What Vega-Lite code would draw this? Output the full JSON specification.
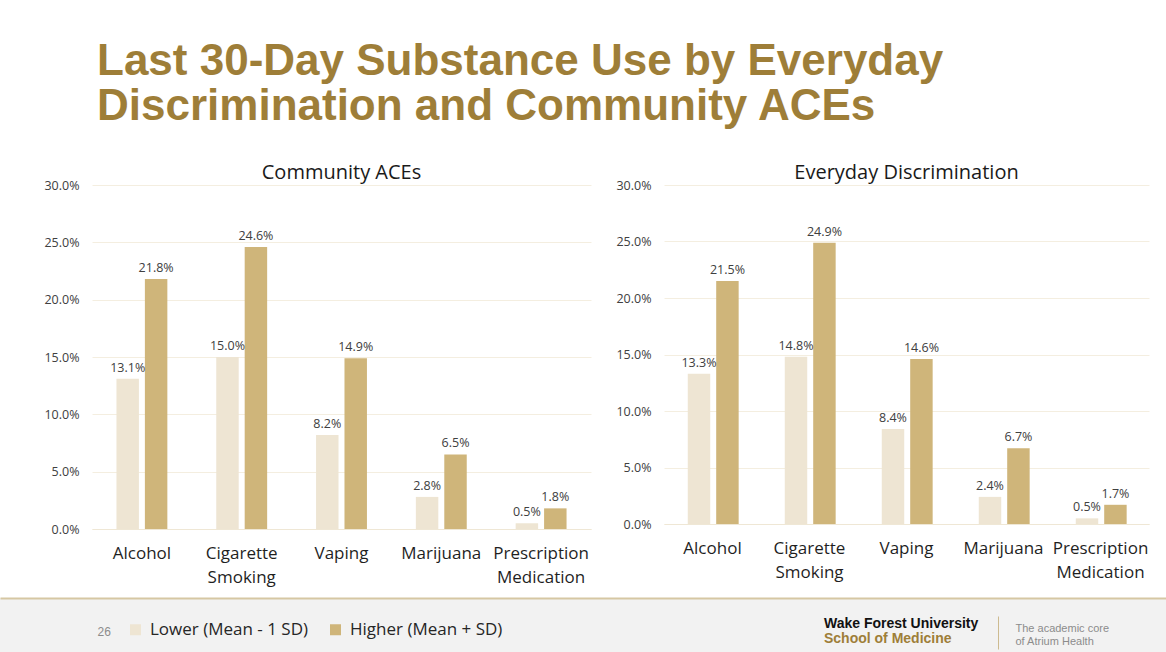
{
  "$schema": "https://vega.github.io/schema/vega-lite/v6.json",
  "background": "white",
  "padding": {"left": 0, "top": 40, "right": 0, "bottom": 0},
  "config": {
    "view": {"stroke": null},
    "font": "Open Sans",
    "legend": {
      "orient": "none", "legendX": 127, "legendY": 436, "direction": "horizontal",
      "title": null, "symbolType": "square", "symbolSize": 121, "symbolStrokeWidth": 0,
      "labelFont": "Open Sans", "labelFontSize": 17, "labelColor": "#262626",
      "labelOffset": 6, "columnPadding": 18
    }
  },
  "title": {
    "text": ["Last 30-Day Substance Use by Everyday", "Discrimination and Community ACEs"],
    "anchor": "start", "dx": 97, "offset": 34,
    "font": "Liberation Sans", "fontWeight": "bold", "fontSize": 44, "lineHeight": 45,
    "color": "#9E7E38"
  },
  "datasets": {
    "bars": [
      {"panel": "Community ACEs", "substance": "Alcohol", "group": "Lower (Mean - 1 SD)", "value": 0.131},
      {"panel": "Community ACEs", "substance": "Alcohol", "group": "Higher (Mean + SD)", "value": 0.218},
      {"panel": "Community ACEs", "substance": "Cigarette Smoking", "group": "Lower (Mean - 1 SD)", "value": 0.150},
      {"panel": "Community ACEs", "substance": "Cigarette Smoking", "group": "Higher (Mean + SD)", "value": 0.246},
      {"panel": "Community ACEs", "substance": "Vaping", "group": "Lower (Mean - 1 SD)", "value": 0.082},
      {"panel": "Community ACEs", "substance": "Vaping", "group": "Higher (Mean + SD)", "value": 0.149},
      {"panel": "Community ACEs", "substance": "Marijuana", "group": "Lower (Mean - 1 SD)", "value": 0.028},
      {"panel": "Community ACEs", "substance": "Marijuana", "group": "Higher (Mean + SD)", "value": 0.065},
      {"panel": "Community ACEs", "substance": "Prescription Medication", "group": "Lower (Mean - 1 SD)", "value": 0.005},
      {"panel": "Community ACEs", "substance": "Prescription Medication", "group": "Higher (Mean + SD)", "value": 0.018},
      {"panel": "Everyday Discrimination", "substance": "Alcohol", "group": "Lower (Mean - 1 SD)", "value": 0.133},
      {"panel": "Everyday Discrimination", "substance": "Alcohol", "group": "Higher (Mean + SD)", "value": 0.215},
      {"panel": "Everyday Discrimination", "substance": "Cigarette Smoking", "group": "Lower (Mean - 1 SD)", "value": 0.148},
      {"panel": "Everyday Discrimination", "substance": "Cigarette Smoking", "group": "Higher (Mean + SD)", "value": 0.249},
      {"panel": "Everyday Discrimination", "substance": "Vaping", "group": "Lower (Mean - 1 SD)", "value": 0.084},
      {"panel": "Everyday Discrimination", "substance": "Vaping", "group": "Higher (Mean + SD)", "value": 0.146},
      {"panel": "Everyday Discrimination", "substance": "Marijuana", "group": "Lower (Mean - 1 SD)", "value": 0.024},
      {"panel": "Everyday Discrimination", "substance": "Marijuana", "group": "Higher (Mean + SD)", "value": 0.067},
      {"panel": "Everyday Discrimination", "substance": "Prescription Medication", "group": "Lower (Mean - 1 SD)", "value": 0.005},
      {"panel": "Everyday Discrimination", "substance": "Prescription Medication", "group": "Higher (Mean + SD)", "value": 0.017}
    ]
  },
  "spacing": 13,
  "vconcat": [
    {
      "spacing": 24,
      "hconcat": [
        {"width": 19, "height": 1, "data": {"values": []}, "mark": "point", "encoding": {}},
        {
          "width": 499, "height": 344,
          "title": {"text": "Community ACEs", "font": "Open Sans", "fontSize": 20, "fontWeight": "normal", "color": "#1a1a1a", "offset": -4},
          "data": {"name": "bars"},
          "transform": [{"filter": "datum.panel === 'Community ACEs'"}],
          "encoding": {
            "x": {"field": "substance", "type": "nominal",
              "sort": ["Alcohol", "Cigarette Smoking", "Vaping", "Marijuana", "Prescription Medication"],
              "scale": {"paddingInner": 0.49, "paddingOuter": 0.245},
              "axis": {"title": null, "ticks": false, "domainColor": "#EFE7D5", "labelAngle": 0, "labelFontSize": 17, "labelColor": "#1f1f1f", "labelPadding": 16, "labelLineHeight": 24, "labelExpr": "split(datum.label, ' ')"}},
            "xOffset": {"field": "group", "type": "nominal", "sort": ["Lower (Mean - 1 SD)", "Higher (Mean + SD)"], "scale": {"paddingInner": 0.21}},
            "y": {"field": "value", "type": "quantitative", "scale": {"domain": [0, 0.3]},
              "axis": {"title": null, "values": [0, 0.05, 0.1, 0.15, 0.2, 0.25, 0.3], "format": ".1%", "domain": false, "ticks": false, "tickSize": 0, "labelPadding": 13, "labelFontSize": 12.5, "labelColor": "#404040", "gridColor": "#F4EEE0"}}
          },
          "layer": [
            {"mark": {"type": "bar"},
             "encoding": {"color": {"field": "group", "type": "nominal", "scale": {"domain": ["Lower (Mean - 1 SD)", "Higher (Mean + SD)"], "range": ["#EEE5D3", "#CFB57A"]}}}},
            {"mark": {"type": "text", "baseline": "bottom", "dy": -4, "fontSize": 12.5, "color": "#404040"},
             "encoding": {"text": {"field": "value", "type": "quantitative", "format": ".1%"}}}
          ]
        },
        {
          "width": 485, "height": 339,
          "title": {"text": "Everyday Discrimination", "font": "Open Sans", "fontSize": 20, "fontWeight": "normal", "color": "#1a1a1a", "offset": -4},
          "data": {"name": "bars"},
          "transform": [{"filter": "datum.panel === 'Everyday Discrimination'"}],
          "encoding": {
            "x": {"field": "substance", "type": "nominal",
              "sort": ["Alcohol", "Cigarette Smoking", "Vaping", "Marijuana", "Prescription Medication"],
              "scale": {"paddingInner": 0.49, "paddingOuter": 0.245},
              "axis": {"title": null, "ticks": false, "domainColor": "#EFE7D5", "labelAngle": 0, "labelFontSize": 17, "labelColor": "#1f1f1f", "labelPadding": 16, "labelLineHeight": 24, "labelExpr": "split(datum.label, ' ')"}},
            "xOffset": {"field": "group", "type": "nominal", "sort": ["Lower (Mean - 1 SD)", "Higher (Mean + SD)"], "scale": {"paddingInner": 0.21}},
            "y": {"field": "value", "type": "quantitative", "scale": {"domain": [0, 0.3]},
              "axis": {"title": null, "values": [0, 0.05, 0.1, 0.15, 0.2, 0.25, 0.3], "format": ".1%", "domain": false, "ticks": false, "tickSize": 0, "labelPadding": 13, "labelFontSize": 12.5, "labelColor": "#404040", "gridColor": "#F4EEE0"}}
          },
          "layer": [
            {"mark": {"type": "bar"},
             "encoding": {"color": {"field": "group", "type": "nominal", "scale": {"domain": ["Lower (Mean - 1 SD)", "Higher (Mean + SD)"], "range": ["#EEE5D3", "#CFB57A"]}}}},
            {"mark": {"type": "text", "baseline": "bottom", "dy": -4, "fontSize": 12.5, "color": "#404040"},
             "encoding": {"text": {"field": "value", "type": "quantitative", "format": ".1%"}}}
          ]
        }
      ]
    },
    {
      "width": 1166, "height": 60,
      "view": {"fill": "#F2F2F2", "stroke": null},
      "title": {"text": "Wake Forest University", "subtitle": "School of Medicine", "anchor": "start", "dx": 824, "offset": -48,
        "font": "Liberation Sans", "fontSize": 14, "fontWeight": "bold", "color": "#111111",
        "subtitleFont": "Liberation Sans", "subtitleFontSize": 14, "subtitleFontWeight": "bold", "subtitleColor": "#9E7E38", "subtitlePadding": 1},
      "data": {"values": []},
      "mark": "point",
      "encoding": {
        "x": {"field": "u", "type": "quantitative", "scale": {"domain": [0, 1]},
          "axis": {"orient": "top", "labels": false, "ticks": false, "grid": false, "domainColor": "#D6C7A3", "domainWidth": 2,
            "title": "26", "titleX": 97, "titleY": 33, "titleAlign": "left", "titleBaseline": "middle", "titleFont": "Liberation Sans", "titleFontSize": 12, "titleFontWeight": "normal", "titleColor": "#8C8C8C"}},
        "y": {"field": "w", "type": "quantitative", "scale": {"domain": [0, 1], "range": [51, 18]},
          "axis": {"orient": "left", "offset": -998, "labels": false, "ticks": false, "grid": false, "domainColor": "#CDBB90", "domainWidth": 1,
            "title": ["The academic core", "of Atrium Health"], "titleAngle": 0, "titleX": 17, "titleY": 24, "titleAlign": "left", "titleBaseline": "top", "titleLineHeight": 13, "titleFont": "Liberation Sans", "titleFontSize": 11, "titleFontWeight": "normal", "titleColor": "#8C8C8C"}}
      }
    }
  ]
}
